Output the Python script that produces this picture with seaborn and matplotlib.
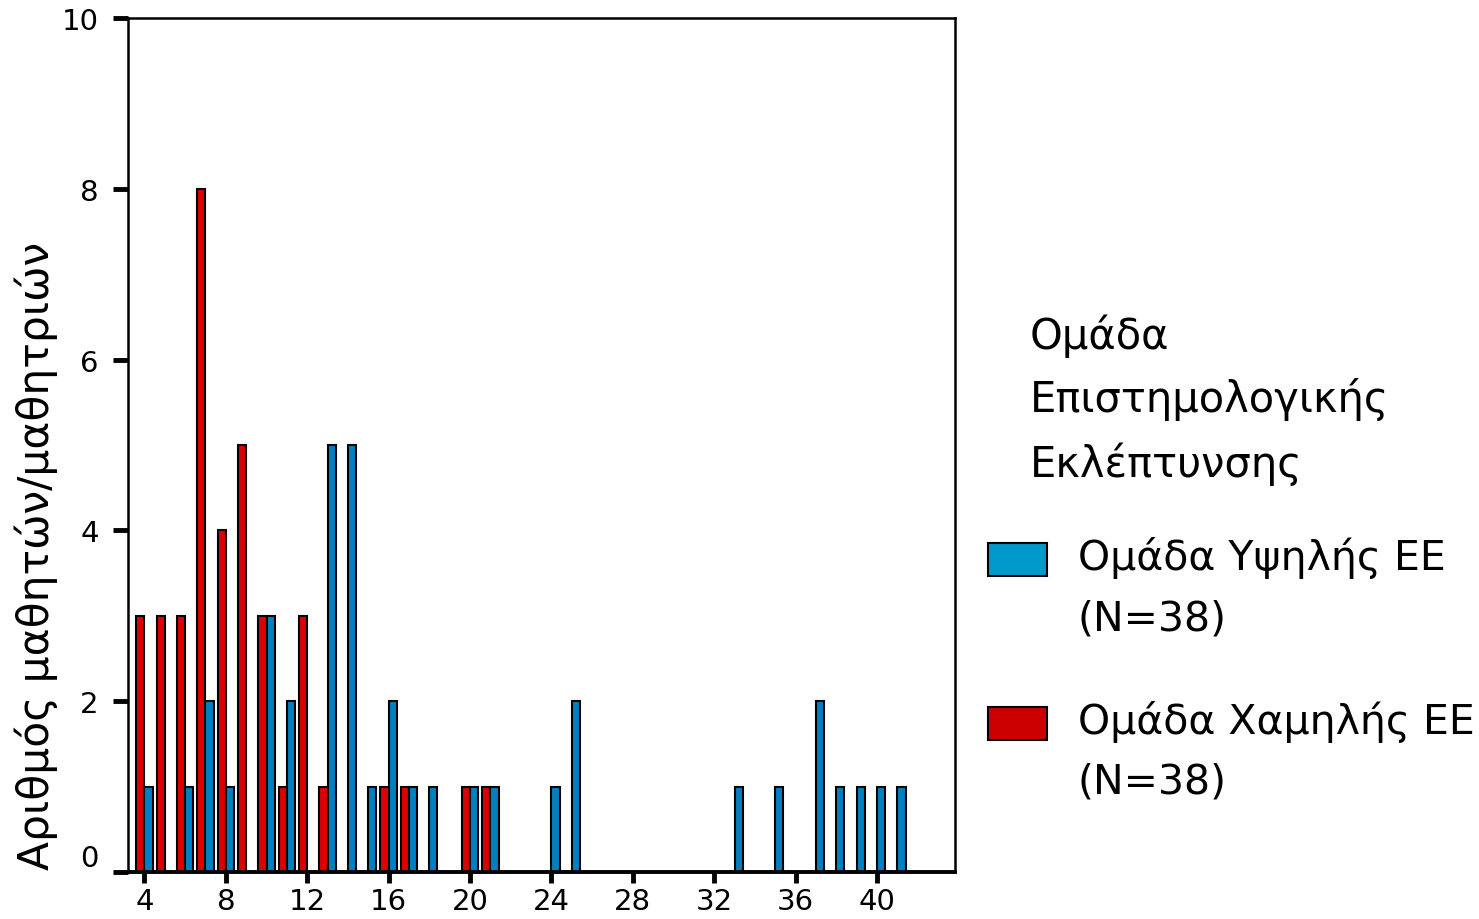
import matplotlib
matplotlib.use("Agg")
import matplotlib.pyplot as plt
import pandas as pd
import seaborn as sns
from matplotlib.legend_handler import HandlerPatch

# scores and counts per group
high_scores = [4, 6, 7, 8, 10, 11, 13, 14, 15, 16, 17, 18, 20, 21, 24, 25, 33, 35, 37, 38, 39, 40, 41]
high_counts = [1, 1, 2, 1, 3, 2, 5, 5, 1, 2, 1, 1, 1, 1, 1, 2, 1, 1, 2, 1, 1, 1, 1]
low_scores = [4, 5, 6, 7, 8, 9, 10, 11, 12, 13, 16, 17, 20, 21]
low_counts = [3, 3, 3, 8, 4, 5, 3, 1, 3, 1, 1, 1, 1, 1]

high_label = "Ομάδα Υψηλής ΕΕ\n(N=38)"
low_label = "Ομάδα Χαμηλής ΕΕ\n(N=38)"
legend_title = "Ομάδα\nΕπιστημολογικής\nΕκλέπτυνσης"
y_label = "Αριθμός μαθητών/μαθητριών"
x_ticks = [4, 8, 12, 16, 20, 24, 28, 32, 36, 40]
y_ticks = [0, 2, 4, 6, 8, 10]


def raised_patch(legend, orig_handle, xdescent, ydescent, width, height, fontsize):
    # legend swatch aligned with the first line of a two-line label
    return plt.Rectangle((-xdescent, -ydescent + 0.7 * fontsize), width, height)


def main():
    sns.set_style("white")
    plt.rcParams["font.family"] = ["DejaVu Sans"]
    plt.rcParams["text.color"] = "black"
    plt.rcParams["xtick.color"] = "black"
    plt.rcParams["ytick.color"] = "black"
    plt.rcParams["axes.labelcolor"] = "black"

    df = pd.concat([
        pd.DataFrame({"score": high_scores, "count": high_counts, "group": high_label}),
        pd.DataFrame({"score": low_scores, "count": low_counts, "group": low_label}),
    ])

    fig = plt.figure(figsize=(14.79, 9.2), dpi=100)
    ax = fig.add_axes([0.0865, 0.0511, 0.5592, 0.9282])

    sns.barplot(
        data=df, x="score", y="count", hue="group",
        hue_order=[low_label, high_label],
        palette={low_label: "#dd0000", high_label: "#0080c0"},
        saturation=1, native_scale=True, width=0.8, errorbar=None,
        edgecolor="black", linewidth=1.5, ax=ax, legend=False,
    )

    ax.set_xlim(3.19, 43.83)
    ax.set_ylim(0, 10)
    ax.set_xticks(x_ticks)
    ax.set_yticks(y_ticks)
    ax.set_xlabel("")
    ax.set_ylabel(y_label, fontsize=30.5, loc="bottom")
    ax.yaxis.set_label_coords(-0.085, 0.003)
    ax.tick_params(axis="y", labelsize=21, direction="out", length=11, width=3.5,
                   pad=10, left=True)
    ax.tick_params(axis="x", labelsize=21, direction="out", length=8, width=3.5,
                   pad=3, bottom=True)
    ax.get_yticklabels()[0].set_va("bottom")
    for sp in ax.spines.values():
        sp.set_color("black")
        sp.set_linewidth(1.8)
    ax.spines["bottom"].set_linewidth(2.8)

    fig.text(1030 / 1479, 1 - 400 / 920, legend_title, fontsize=30,
             va="center", ha="left", linespacing=1.6)

    handles = [
        plt.Rectangle((0, 0), 1, 1, facecolor="#0099cc", edgecolor="black", linewidth=1.5),
        plt.Rectangle((0, 0), 1, 1, facecolor="#cc0000", edgecolor="black", linewidth=1.5),
    ]
    leg = fig.legend(
        handles, [high_label, low_label],
        loc="upper left", bbox_to_anchor=(988 / 1479, 1 - 537 / 920), frameon=False,
        fontsize=29.5, handlelength=1.44, handleheight=0.84, labelspacing=1.5,
        handletextpad=0.75, borderpad=0, borderaxespad=0,
        handler_map={plt.Rectangle: HandlerPatch(patch_func=raised_patch)},
    )
    for t in leg.get_texts():
        t.set_linespacing(1.65)

    plt.savefig("out.png", dpi=100)


if __name__ == "__main__":
    main()
